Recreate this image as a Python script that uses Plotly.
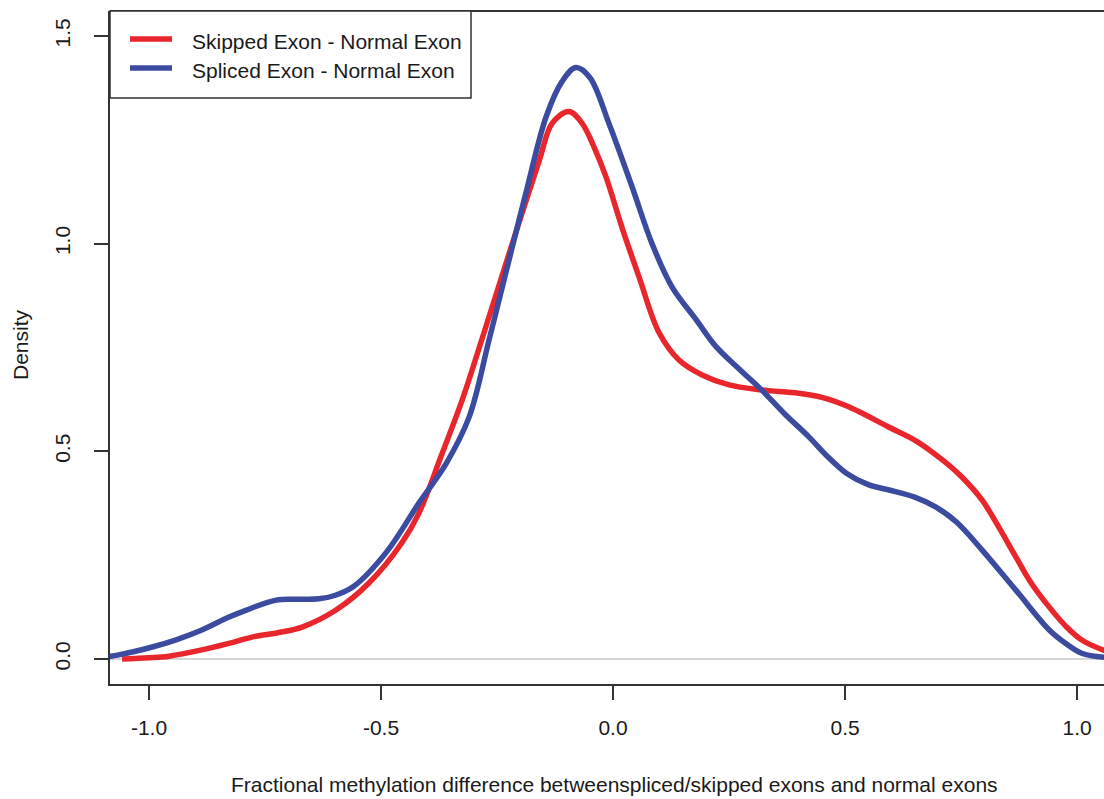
import plotly.graph_objects as go

# ---- data ----
skipped_x = [-1.058, -1.0, -0.957, -0.886, -0.83, -0.778, -0.72, -0.67, -0.597, -0.526,
             -0.455, -0.418, -0.37, -0.325, -0.274, -0.22, -0.159, -0.131, -0.095, -0.067,
             -0.04, -0.015, 0.019, 0.056, 0.099, 0.142, 0.192, 0.25, 0.32, 0.40,
             0.45, 0.50, 0.54, 0.595, 0.65, 0.709, 0.75, 0.795, 0.83, 0.868, 0.90, 0.94,
             0.975, 1.01, 1.06]
skipped_y = [0.0, 0.003, 0.007, 0.022, 0.037, 0.053, 0.064, 0.077, 0.118, 0.183,
             0.28, 0.352, 0.49, 0.624, 0.80, 0.99, 1.2, 1.29, 1.318, 1.29,
             1.23, 1.16, 1.04, 0.92, 0.786, 0.72, 0.684, 0.66, 0.648, 0.64,
             0.63, 0.611, 0.59, 0.558, 0.527, 0.48, 0.44, 0.383, 0.32, 0.246, 0.185, 0.125,
             0.08, 0.046, 0.02]

spliced_x = [-1.1, -1.065, -0.993, -0.94, -0.886, -0.83, -0.79, -0.726, -0.68, -0.634,
             -0.6, -0.56, -0.49, -0.418, -0.36, -0.31, -0.267, -0.224, -0.1875, -0.144,
             -0.11, -0.08, -0.05, -0.009, 0.041, 0.084, 0.127, 0.179, 0.222, 0.27,
             0.32, 0.37, 0.422, 0.46, 0.502, 0.55, 0.595, 0.65, 0.696, 0.74, 0.795,
             0.868, 0.94, 0.975, 1.01, 1.06]
spliced_y = [0.004, 0.01, 0.029, 0.047, 0.07, 0.1, 0.118, 0.142, 0.144, 0.145,
             0.153, 0.174, 0.255, 0.376, 0.47, 0.583, 0.769, 0.961, 1.123, 1.306,
             1.39, 1.424, 1.40, 1.29, 1.137, 1.0, 0.896, 0.817, 0.752, 0.70,
             0.648, 0.59, 0.535, 0.49, 0.448, 0.42, 0.407, 0.39, 0.366, 0.33, 0.263,
             0.166, 0.07, 0.038, 0.014, 0.004]

series_names = ["Skipped Exon - Normal Exon", "Spliced Exon - Normal Exon"]
series_colors = ["#E8262B", "#3B4BA0"]

x_tickvals = [-1.0, -0.5, 0.0, 0.5, 1.0]
x_ticktext = ["-1.0", "-0.5", "0.0", "0.5", "1.0"]
y_tickvals = [0.0, 0.5, 1.0, 1.5]
y_ticktext = ["0.0", "0.5", "1.0", "1.5"]

x_title = "Fractional methylation difference betweenspliced/skipped exons and normal exons"
y_title = "Density"

# ---- figure ----
W, H = 1104, 799
PL, PR, PT, PB = 110, 1104, 11, 684          # plot box in page pixels
ML, MT = PL, PT
MR = W - PR
MB = H - PB
PW, PH = PR - PL, PB - PT
FONT = "Arial, 'Liberation Sans', sans-serif"
TXT = "#1a1a1a"
AX = "#333333"


def px_x(p):
    return (p - PL) / PW


def px_y(p):
    return (PB - p) / PH


fig = go.Figure()
for xs, ys, name, col in [(skipped_x, skipped_y, series_names[0], series_colors[0]),
                          (spliced_x, spliced_y, series_names[1], series_colors[1])]:
    fig.add_trace(go.Scatter(x=xs, y=ys, mode="lines", name=name,
                             line=dict(color=col, width=5.5, shape="spline", smoothing=1.0),
                             showlegend=False))

fig.update_layout(
    width=W, height=H,
    margin=dict(l=ML, r=MR, t=MT, b=MB, pad=0),
    paper_bgcolor="white", plot_bgcolor="white",
    font=dict(family=FONT, size=21, color=TXT),
    xaxis=dict(range=[-1.084, 1.058], tickvals=x_tickvals, ticktext=x_ticktext,
               showgrid=False, zeroline=False, showline=True, linecolor=AX, linewidth=1.5,
               ticks="outside", ticklen=14, tickwidth=1.5, tickcolor=AX,
               ticklabelstandoff=10, tickfont=dict(size=21, color=TXT)),
    yaxis=dict(range=[-0.060, 1.560], tickvals=y_tickvals, ticktext=y_ticktext,
               showgrid=False, zeroline=False, showline=True, linecolor=AX, linewidth=1.5,
               ticks="outside", ticklen=14, tickwidth=1.5, tickcolor=AX, tickangle=-90,
               ticklabelstandoff=16, tickfont=dict(size=21, color=TXT)),
    showlegend=False,
)

shapes = [
    # zero reference line
    dict(type="line", xref="paper", yref="y", x0=0, x1=1, y0=0, y1=0,
         line=dict(color="#C8C8C8", width=1.5), layer="below"),
    # top frame line
    dict(type="line", xref="paper", yref="paper", x0=0, x1=1, y0=1, y1=1,
         line=dict(color=AX, width=2)),
    # legend box
    dict(type="rect", xref="paper", yref="paper", x0=0, x1=px_x(471), y0=px_y(98), y1=1,
         line=dict(color=AX, width=1.5), fillcolor="white", layer="above"),
]
annotations = [
    dict(text=x_title, xref="paper", yref="paper", x=px_x(614), y=px_y(785),
         xanchor="center", yanchor="middle", showarrow=False, font=dict(size=21, color=TXT)),
    dict(text=y_title, xref="paper", yref="paper", x=px_x(20), y=px_y(345), textangle=-90,
         xanchor="center", yanchor="middle", showarrow=False, font=dict(size=21, color=TXT)),
]
for i, (name, col) in enumerate(zip(series_names, series_colors)):
    ly = [39, 68][i]
    ty = [42, 70][i]
    shapes.append(dict(type="line", xref="paper", yref="paper", x0=px_x(130), x1=px_x(172),
                       y0=px_y(ly), y1=px_y(ly), line=dict(color=col, width=5.5), layer="above"))
    annotations.append(dict(text=name, xref="paper", yref="paper", x=px_x(190), y=px_y(ty),
                            xanchor="left", yanchor="middle", showarrow=False,
                            font=dict(size=21, color=TXT)))

fig.update_layout(shapes=shapes, annotations=annotations)
fig.write_html("out.html", config={"displayModeBar": False},
               post_script="document.body.style.margin='0';document.body.style.overflow='hidden';")
